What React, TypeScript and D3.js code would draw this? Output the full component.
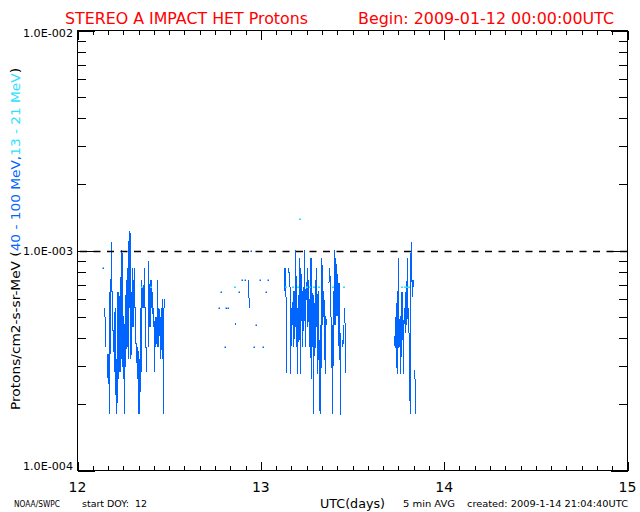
import React from 'react';
import * as d3 from 'd3';

// ---------- axes / labels ----------
const X_DOMAIN: [number, number] = [12, 15];
const Y_DOMAIN: [number, number] = [1e-4, 1e-2];
const X_TICK_LABELS = ['12', '13', '14', '15'];
const Y_TICK_LABELS = ['1.0E-004', '1.0E-003', '1.0E-002'];
const REF_LEVEL = 1e-3;
const START_DOY = 12;
const STEP_DAYS = 5 / 1440; // 5 min averages
const UNIT = 1e-4; // values below are in units of 1e-4 protons/cm2-s-sr-MeV

// ---------- 40 - 100 MeV (blue): runs of 5-min values, start bin index ----------
const hiStartBins = [40, 43, 223, 226, 231, 233, 237, 248, 253, 258, 263, 268, 272, 277, 280, 286, 291, 296, 299, 325, 498];
const hiRuns: (number | null)[][] = [
  [8.3],
  [5.5, 3.65, null, null, 3.4, 2.6, 3.4, 1.8, 6.5, 3.4, 10.9, 6.5, 6.5, 3.9, 3.9, 2.8, 5.5, 2.2, 3.2, 1.8,
   6.5, 2.6, 6.5, 2.8, 7.6, 2.8, 10.1, 2.95, 9.7, 2.6, 4.9, 1.8, 6.3, 2.95, 7.35, 3.65, 8.3, 3.2, 12.2, 5.5,
   12.0, 3.2, 6.5, 4.5, 8.3, 4.5, 8.3, 5.5, 5.5, 3.65, 3.65, 2.6, 3.65, 1.8, 3.2, 1.8, 5.5, 2.8, 7.35, 5.5,
   7.0, 5.5, 8.3, 5.5, 5.5, 2.8, 3.65, null, 3.65, 9.0, 4.5, 7.35, 4.5, 7.35, 5.5, 6.5, 4.5, 5.5, 2.8, 5.0,
   3.65, 5.0, 3.65, 7.35, 3.65, 5.5, 4.1, 5.0, 3.2, 5.5, 3.2, 6.0, 1.8, 6.0, 5.5],
  [5.5], [6.5], [3.65], [5.5], [5.5], [4.6, 4.7], [6.5], [7.35], [7.35], [7.35, 6.5, 5.5], [10.0],
  [3.65], [4.6], [7.35], [3.65], [6.5], [7.35],
  [8.3, 6.5, 8.3, 4.8, 2.76, null, null, 8.3, 7.1, 6.8, 2.76, 5.5, 4.6, 5.05, 6.55, 3.65, 6.55, 4.5, 10.0, 3.65,
   5.5, 2.76, 6.3, 3.9, 9.2, 2.76, 8.3, 4.8, 6.55, 3.65, 6.8, 4.8, 10.0, 3.65, 6.7, 5.95, 8.3, 4.5, 7.35, 5.5,
   3.65, 9.2, 2.6, 9.2, 3.65, 6.3, 1.8, 5.75, 3.3, 7.35, 4.5, 8.3, 2.76, 6.55, 3.17, 3.9, 1.8, 4.6, 2.93, 9.2,
   4.6, 6.55, 5.0, 5.95, 2.76, 5.05, 4.6, null, null, null, 7.1, 8.3, 7.35, 5.95, 2.93, 4.6, 1.8, 6.55, 4.6, 10.0,
   4.6, 9.2, 5.05, 7.8, 5.05, 7.1, 3.17, 7.1, 1.8, 1.8, null, 3.9, 3.65, 4.6, null, 5.5, 2.76],
  [4.1, 3.6, 4.6, 5.75, 2.76, 4.6, 9.2, 3.6, 4.6, 5.05, 2.76, 6.5, 3.9, 6.5, 2.76, 4.9, 5.5, 4.2, 6.5, 4.6,
   9.2, 4.9, 5.5, 3.9, 2.24, 1.8, 10.9, 8.4, 6.15, 7.35, 6.8, null, 2.85, 1.8],
];

// ---------- 13 - 21 MeV (cyan): sparse 5-min values ----------
const loBins = [102, 115, 248, 328, 339, 347, 349, 360, 366, 372, 379, 402, 419, 510, 514, 517, 520];
const loVals = [6.8, 6.8, 6.8, 6.8, 6.8, 6.8, 13.9, 6.8, 6.8, 6.8, 6.8, 6.8, 6.8, 6.8, 6.8, 6.8, 6.8];

const BLUE = '#0064ff';
const CYAN = '#2ee0ff';
const RED = '#ff0000';
const FONT = 'DejaVu Sans, sans-serif';

type P = { t: number; v: number };

export default function App() {
  const W = 640, H = 512;
  const L = 77.5, R = 627.5, T = 30.5, B = 470.5;
  const x = d3.scaleLinear().domain(X_DOMAIN).range([L, R]);
  const y = d3.scaleLog().domain(Y_DOMAIN).range([B, T]);

  // build contiguous segments of the blue series
  const segments: P[][] = [];
  hiRuns.forEach((run, ri) => {
    let cur: P[] = [];
    run.forEach((v, i) => {
      if (v == null) {
        if (cur.length) segments.push(cur);
        cur = [];
      } else {
        cur.push({ t: START_DOY + (hiStartBins[ri] + i) * STEP_DAYS, v: v * UNIT });
      }
    });
    if (cur.length) segments.push(cur);
  });
  const line = d3.line<P>().x(d => x(d.t)).y(d => y(d.v));
  const lines = segments.filter(s => s.length > 1);
  const dots = segments.filter(s => s.length === 1).map(s => s[0]);
  const loPts: P[] = loBins.map((b, i) => ({ t: START_DOY + b * STEP_DAYS, v: loVals[i] * UNIT }));

  // ticks
  const xTicks = d3.range(0, 37).map(i => ({ t: 12 + i / 12, major: i % 12 === 0 }));
  const yTicks: { v: number; major: boolean }[] = [];
  [-4, -3].forEach(e => {
    for (let m = 1; m <= 9; m++) yTicks.push({ v: m * Math.pow(10, e), major: m === 1 });
  });
  yTicks.push({ v: 1e-2, major: true });
  const xMaj = 9, xMin = 4.5, yMaj = 17, yMin = 8.5;

  const refY = Math.round(y(REF_LEVEL)) + 0.5;

  return (
    <svg width={W} height={H} style={{ position: 'absolute', left: 0, top: 0, background: '#fff' }}
      fontFamily={FONT}>
      <rect x={0} y={0} width={W} height={H} fill="#fff" />
      {/* titles */}
      <text x={65} y={24} fontSize={16} fill={RED} textLength={243} lengthAdjust="spacingAndGlyphs">STEREO A IMPACT HET Protons</text>
      <text x={358} y={24} fontSize={16} fill={RED} textLength={256} lengthAdjust="spacingAndGlyphs">Begin: 2009-01-12 00:00:00UTC</text>

      {/* data */}
      <g shapeRendering="crispEdges">
        {lines.map((s, i) => (
          <path key={i} d={line(s) || ''} fill="none" stroke={BLUE} strokeWidth={1} />
        ))}
      </g>
      {dots.map((d, i) => (
        <rect key={'d' + i} x={Math.round(x(d.t)) - 0.5} y={Math.round(y(d.v)) - 0.5} width={1.5} height={1.5} fill={BLUE} />
      ))}
      {loPts.map((d, i) => (
        <rect key={'c' + i} x={Math.round(x(d.t)) - 1} y={Math.round(y(d.v)) - 0.5} width={2} height={1.5} fill={CYAN} />
      ))}

      {/* reference dashed line */}
      <line x1={L} x2={R} y1={refY} y2={refY} stroke="#000" strokeWidth={1.5} strokeDasharray="7 6.5" strokeDashoffset={11} />

      {/* frame */}
      <g shapeRendering="crispEdges" stroke="#000" strokeWidth={1} fill="none">
        <rect x={L} y={T} width={R - L} height={B - T} />
        {xTicks.map((d, i) => {
          const xx = Math.round(x(d.t)) + 0.5;
          const len = d.major ? xMaj : xMin;
          return (
            <g key={'xt' + i}>
              <line x1={xx} x2={xx} y1={B} y2={B - len} />
              <line x1={xx} x2={xx} y1={T} y2={T + len} />
            </g>
          );
        })}
        {yTicks.map((d, i) => {
          const yy = Math.round(y(d.v)) + 0.5;
          const len = d.major ? yMaj : yMin;
          return (
            <g key={'yt' + i}>
              <line x1={L} x2={L + len} y1={yy} y2={yy} />
              <line x1={R} x2={R - len} y1={yy} y2={yy} />
            </g>
          );
        })}
      </g>

      {/* y tick labels */}
      {Y_TICK_LABELS.map((lab, i) => {
        const v = Math.pow(10, -4 + i);
        const base = i === 0 ? y(v) - 1 : i === 1 ? y(v) + 4.5 : y(v) + 6.5;
        return (
          <text key={lab} x={23} y={base} fontSize={10} fill="#000" textLength={50} lengthAdjust="spacingAndGlyphs">{lab}</text>
        );
      })}
      {/* x tick labels */}
      {X_TICK_LABELS.map((lab, i) => (
        <text key={lab} x={x(X_DOMAIN[0] + i)} y={492} fontSize={14} textAnchor="middle" fill="#000">{lab}</text>
      ))}

      {/* y axis title */}
      <text transform="translate(20,410) rotate(-90)" fontSize={12} textLength={342} lengthAdjust="spacingAndGlyphs">
        <tspan fill="#000">Protons/cm2-s-sr-MeV (</tspan>
        <tspan fill={BLUE}>40 - 100 MeV,</tspan>
        <tspan fill={CYAN}>13 - 21 MeV</tspan>
        <tspan fill="#000">)</tspan>
      </text>

      {/* footer */}
      <text x={14} y={507} fontSize={9} textLength={46} lengthAdjust="spacingAndGlyphs">NOAA/SWPC</text>
      <text x={82} y={507} fontSize={9} textLength={65} lengthAdjust="spacingAndGlyphs" xmlSpace="preserve">start DOY:  12</text>
      <text x={320} y={508} fontSize={13} textLength={65} lengthAdjust="spacingAndGlyphs">UTC(days)</text>
      <text x={403} y={507} fontSize={9} textLength={52} lengthAdjust="spacingAndGlyphs">5 min AVG</text>
      <text x={467} y={507} fontSize={9} textLength={161} lengthAdjust="spacingAndGlyphs">created: 2009-1-14 21:04:40UTC</text>
    </svg>
  );
}
